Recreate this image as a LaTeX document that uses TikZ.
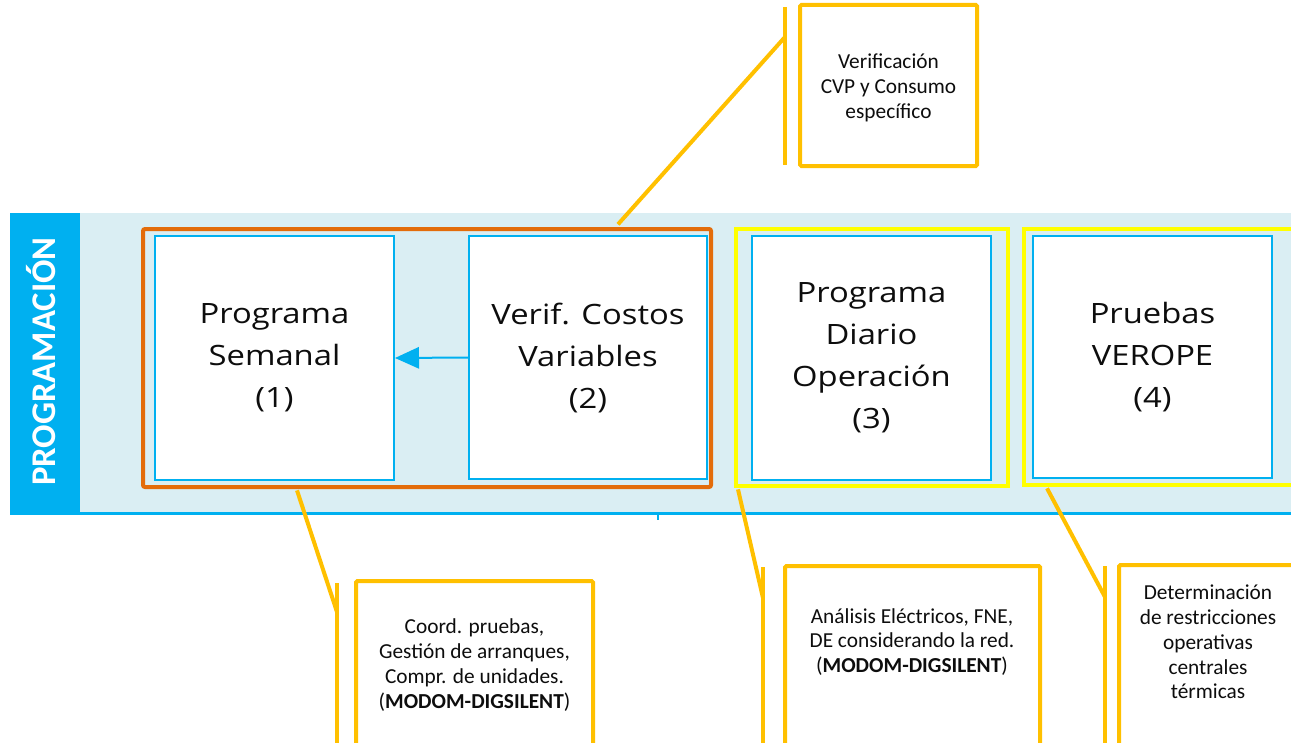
\documentclass[tikz,border=0pt]{standalone}
\usepackage{fontspec}
\setmainfont{Carlito}
\newfontfamily\boxfont[FakeStretch=1.17]{Open Sans}
\newfontfamily\bandfont{Carlito}
\usetikzlibrary{arrows.meta}
\definecolor{bandblue}{HTML}{00B0F0}
\definecolor{bandlight}{HTML}{DAEEF3}
\definecolor{grouporange}{HTML}{E36C0A}
\definecolor{groupyellow}{HTML}{FFFF00}
\definecolor{noteamber}{HTML}{FFC000}
\definecolor{ink}{HTML}{0D0D0D}
\begin{document}
\begin{tikzpicture}[x=0.75pt,y=-0.75pt,
  stage/.style={draw=bandblue, line width=1.5pt, fill=white, inner sep=0pt,
    text=ink, align=center, font=\boxfont\fontsize{21}{31.5}\selectfont},
  grp/.style={draw, line width=3pt, inner sep=0pt, rounded corners=1.5pt},
  note/.style={draw=noteamber, line width=3pt, fill=white, inner sep=0pt, rounded corners=1pt},
  notetext/.style={text=ink, align=center, inner sep=0pt, font=\fontsize{16}{18.6}\selectfont},
  leader/.style={draw=noteamber, line width=3pt},
  flow/.style={draw=bandblue, line width=1.5pt, -{Triangle[length=18pt,width=16pt]}}]
\useasboundingbox (0,0) rectangle (1291,742);
\clip (0,0) rectangle (1291,742);

% swimlane band
\fill[bandlight] (10,213) rectangle (1300,515);
\fill[bandblue] (10,213) rectangle (80,515);
\draw[bandblue, line width=1.6pt] (80,513.5) -- (1300,513.5);
\draw[bandblue, line width=1.2pt] (658,513) -- (658,520);
\node[rotate=90, anchor=base, text=white, inner sep=0pt,
  font=\bandfont\bfseries\fontsize{26}{30}\selectfont] (lane) at (55,361.5) {PROGRAMACIÓN};

% process steps
\node[stage, minimum width=179.25pt, minimum height=183pt] (s1) at (274.5,358) {Programa\\Semanal\\(1)};
\node[stage, minimum width=178.5pt, minimum height=182.25pt] (s2) at (588,357.5) {Verif. Costos\\Variables\\(2)};
\node[stage, minimum width=179.25pt, minimum height=183pt] (s3) at (871.5,358) {Programa\\Diario\\Operación\\(3)};
\node[stage, minimum width=179.25pt, minimum height=181.5pt] (s4) at (1152.5,357) {Pruebas\\VEROPE\\(4)};
\draw[flow] (s2.west) -- (s1.east);

% highlight frames
\node[grp, draw=grouporange, minimum width=426pt, minimum height=193.5pt] (g12) at (427,358) {};
\node[grp, draw=groupyellow, rounded corners=0pt, minimum width=204pt, minimum height=192.75pt] (g3) at (872,357.5) {};
\node[grp, draw=groupyellow, rounded corners=0pt, minimum width=214.5pt, minimum height=192pt] (g4) at (1167,357) {};

% callout: cost verification
\node[note, minimum width=132.75pt, minimum height=120.75pt] (n2) at (888.5,85.5) {};
\node[notetext] (n2t) at (888.5,88) {Verificación\\CVP y Consumo\\específico};
\coordinate (n2top) at (785,7);
\coordinate (n2bot) at (785,165);
\coordinate (n2knee) at (785,37);
\draw[leader] (n2top) -- (n2bot);
\draw[leader] ([xshift=143.25pt,yshift=2pt]g12.north) -- (n2knee);

% callout: weekly programme
\node[note, minimum width=177.75pt, minimum height=164.25pt] (n1) at (474.5,690.5) {};
\node[notetext] (n1t) at (474.5,665) {Coord. pruebas,\\Gestión de arranques,\\Compr. de unidades.\\(\textbf{MODOM-DIGSILENT})};
\coordinate (n1top) at (337,583);
\coordinate (n1bot) at (337,800);
\coordinate (n1knee) at (337,612);
\draw[leader] (n1top) -- (n1bot);
\draw[leader] ([xshift=-97.5pt,yshift=-1pt]g12.south) -- (n1knee);

% callout: daily programme
\node[note, minimum width=191.25pt, minimum height=175.5pt] (n3) at (912.5,683) {};
\node[notetext] (n3t) at (912,642) {Análisis Eléctricos, FNE,\\DE considerando la red.\\(\textbf{MODOM-DIGSILENT})};
\coordinate (n3top) at (763,567);
\coordinate (n3bot) at (763,800);
\coordinate (n3knee) at (763,598);
\draw[leader] (n3top) -- (n3bot);
\draw[leader] ([xshift=-100.5pt,yshift=-1pt]g3.south) -- (n3knee);

% callout: VEROPE tests
\node[note, minimum width=150.75pt, minimum height=176.25pt] (n4) at (1219.5,682.5) {};
\node[notetext] (n4t) at (1208,642) {Determinación\\de restricciones\\operativas\\centrales\\térmicas};
\coordinate (n4top) at (1105,566);
\coordinate (n4bot) at (1105,800);
\coordinate (n4knee) at (1105,597);
\draw[leader] (n4top) -- (n4bot);
\draw[leader] ([xshift=-90pt,yshift=-1pt]g4.south) -- (n4knee);
\end{tikzpicture}
\end{document}
